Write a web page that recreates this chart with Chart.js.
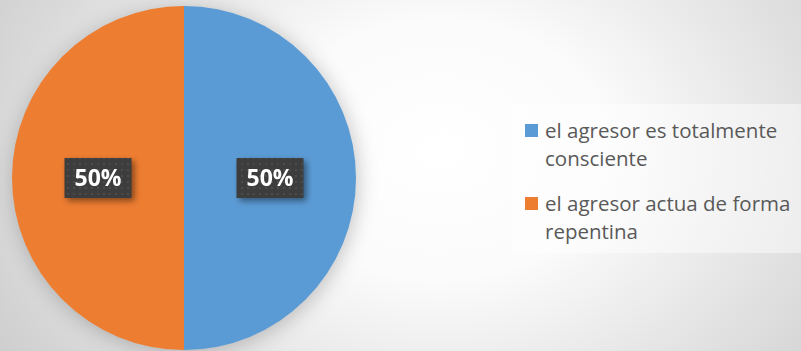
<!DOCTYPE html>
<html>
<head>
<meta charset="utf-8">
<script src="https://cdn.jsdelivr.net/npm/chart.js@4.4.1/dist/chart.umd.min.js"></script>
<style>
  html, body { margin: 0; padding: 0; }
  body {
    width: 801px; height: 351px; overflow: hidden; position: relative;
    background: radial-gradient(ellipse 560px 430px at 440px 150px, #ffffff 0%, #fbfbfb 30%, #c8c8c8 100%);
    font-family: "Open Sans", sans-serif;
  }
  #pie-wrap {
    position: absolute; left: 12px; top: 6px; width: 344px; height: 344px;
  }
  #pie-wrap canvas { filter: drop-shadow(2px 3px 10px rgba(0,0,0,0.22)); }
  #legend {
    position: absolute; left: 512px; top: 104px; width: 289px; height: 149px;
    background: rgba(255,255,255,0.45);
    box-sizing: border-box; padding: 12px 0 0 13px;
  }
  .item { display: flex; align-items: flex-start; margin-bottom: 17px; }
  .swatch { width: 13px; height: 13px; margin: 8px 7px 0 0; flex: none; }
  .text { color: #595959; font-size: 20.5px; line-height: 28px; width: 262px; }
</style>
</head>
<body>
<div id="pie-wrap"><canvas id="pie"></canvas></div>
<div id="legend"></div>
<script>
// categories and values
const categories = ['el agresor es totalmente consciente', 'el agresor actua de forma repentina'];
const shares = [50, 50];
const colors = ['#5B9BD5', '#ED7D31'];

// dark dotted box behind each percentage
function dotPattern(ctx) {
  const c = document.createElement('canvas');
  c.width = 6; c.height = 6;
  const p = c.getContext('2d');
  p.fillStyle = '#3d3d3d';
  p.fillRect(0, 0, 6, 6);
  p.fillStyle = '#4c4c4c';
  p.fillRect(1, 1, 2, 2);
  return ctx.createPattern(c, 'repeat');
}

const boxLabels = {
  id: 'boxLabels',
  afterDatasetsDraw(chart) {
    const ctx = chart.ctx;
    const meta = chart.getDatasetMeta(0);
    const total = shares.reduce((a, b) => a + b, 0);
    const pat = dotPattern(ctx);
    meta.data.forEach((arc, i) => {
      const pos = arc.tooltipPosition();
      const txt = Math.round(shares[i] / total * 100) + '%';
      const w = 67, h = 40;
      ctx.save();
      ctx.shadowColor = 'rgba(0,0,0,0.45)';
      ctx.shadowBlur = 6;
      ctx.shadowOffsetX = 3;
      ctx.shadowOffsetY = 3;
      ctx.fillStyle = pat;
      ctx.fillRect(pos.x - w / 2, pos.y - h / 2, w, h);
      ctx.restore();
      ctx.save();
      ctx.fillStyle = '#ffffff';
      ctx.font = 'bold 23px "Open Sans"';
      ctx.textAlign = 'center';
      ctx.textBaseline = 'middle';
      ctx.fillText(txt, pos.x, pos.y + 1);
      ctx.restore();
    });
  }
};

new Chart(document.getElementById('pie'), {
  type: 'pie',
  data: {
    labels: categories,
    datasets: [{ data: shares, backgroundColor: colors, borderWidth: 0 }]
  },
  options: {
    responsive: true,
    maintainAspectRatio: false,
    animation: false,
    layout: { padding: 0 },
    plugins: { legend: { display: false }, tooltip: { enabled: false } }
  },
  plugins: [boxLabels]
});

// legend built from the same arrays
const legend = document.getElementById('legend');
categories.forEach((name, i) => {
  const row = document.createElement('div');
  row.className = 'item';
  row.innerHTML = '<span class="swatch" style="background:' + colors[i] + '"></span><span class="text">' + name + '</span>';
  legend.appendChild(row);
});
</script>
</body>
</html>
